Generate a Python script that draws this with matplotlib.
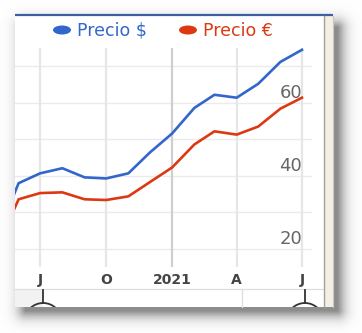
import numpy as np
import pandas as pd
import matplotlib
matplotlib.use('Agg')
import matplotlib.pyplot as plt
import matplotlib.dates as mdates
from matplotlib.patches import Rectangle, Ellipse, Circle
from matplotlib.transforms import offset_copy

# datos mensuales
meses = pd.date_range('2020-05-01', '2021-07-01', freq='MS')
precio_usd = [23.0, 38.0, 40.7, 42.1, 39.6, 39.3, 40.7, 46.4, 51.6, 58.6, 62.2, 61.4, 65.2, 71.2, 74.5]
precio_eur = [20.0, 33.6, 35.3, 35.5, 33.6, 33.4, 34.4, 38.3, 42.3, 48.6, 52.2, 51.3, 53.5, 58.4, 61.4]
tick_fechas = pd.to_datetime(['2020-07-01', '2020-10-01', '2021-01-01', '2021-04-01', '2021-07-01'])
tick_labels = ['J', 'O', '2021', 'A', 'J']
y_labels = [20, 40, 60]

W, H = 362, 333
azul = '#3366cc'
rojo = '#dc3912'

fig = plt.figure(figsize=(W / 100, H / 100), dpi=100)
fig.patch.set_facecolor('white')

# fondo: sombra de la captura y marco (coordenadas en pixeles)
bg = fig.add_axes([0, 0, 1, 1], zorder=0)
bg.set_xlim(0, W)
bg.set_ylim(H, 0)
bg.axis('off')
yy, xx = np.mgrid[0:H, 0:W] + 0.5
x0, x1, y0, y1 = 26, 337, 28, 310
dx = np.maximum(np.maximum(x0 - xx, xx - x1), 0)
dy = np.maximum(np.maximum(y0 - yy, yy - y1), 0)
d = np.hypot(dx, dy)
sombra = 1 - 0.45 * np.exp(-(d / 8.5) ** 1.4)
bg.imshow(np.dstack([sombra] * 3), extent=(0, W, H, 0), aspect='auto', interpolation='bilinear')

panel = Rectangle((15, 14), 318, 293, facecolor='white', edgecolor='none')
bg.add_patch(panel)
bg.plot([15, 333], [14.5, 14.5], color='#3d5f9f', lw=1.6, solid_capstyle='butt')
bg.add_patch(Rectangle((324, 16), 9, 291, facecolor='#f4eee3', edgecolor='none'))
bg.plot([323.5, 323.5], [16, 307], color='#a0a0a0', lw=1.0)
bg.plot([333, 333], [16, 307], color='#c8c8c8', lw=0.8)

# zona inferior (selector de rango)
bg.add_patch(Rectangle((15, 289), 28, 18, facecolor='#f2f2f2', edgecolor='none'))
bg.plot([15, 323], [289, 289], color='#dddddd', lw=0.9)
bg.plot([242, 242], [289, 307], color='#dddddd', lw=0.9)

# leyenda
bg.add_patch(Ellipse((62, 30), 18, 9, facecolor=azul, edgecolor='none'))
bg.text(77, 31, 'Precio $', color=azul, fontsize=12.5, va='center', ha='left')
bg.add_patch(Ellipse((188, 30), 18, 9, facecolor=rojo, edgecolor='none'))
bg.text(203, 31, 'Precio €', color=rojo, fontsize=12.5, va='center', ha='left')

# grafico principal
ax = fig.add_axes([15 / W, 1 - 267 / H, (312 - 15) / W, (267 - 48) / H], zorder=1)
ax.set_facecolor('none')
ax.set_xlim(pd.Timestamp('2020-05-27'), pd.Timestamp('2021-07-15'))
ax.set_ylim(15.07, 75.0)

for v in range(20, 80, 10):
    ax.axhline(v, color='#ebebeb', lw=1.0, zorder=1)
for f in tick_fechas:
    c = '#cfcfcf' if f.year == 2021 and f.month == 1 else '#e6e6e6'
    ax.axvline(f, color=c, lw=1.6, zorder=1)

ax.plot(meses, precio_usd, color=azul, lw=1.9, zorder=3)
ax.plot(meses, precio_eur, color=rojo, lw=1.9, zorder=3)

ax.set_xticks(tick_fechas)
ax.set_xticklabels(tick_labels, fontsize=10, fontweight='bold', color='#444444')
ax.tick_params(axis='x', length=0, pad=4)
ax.tick_params(axis='y', left=False, labelleft=False)
for s in ax.spines.values():
    s.set_visible(False)

tr = offset_copy(ax.transData, fig=fig, x=0, y=5, units='dots')
for v in y_labels:
    ax.text(tick_fechas[-1], v, str(v), transform=tr, ha='right', va='baseline',
            fontsize=13, color='#666666', zorder=4)

# manijas del selector en los extremos
for f in [tick_fechas[0], tick_fechas[-1]]:
    px = ax.transData.transform((mdates.date2num(f), 0))[0] + 3
    bg.plot([px, px], [290, 303], color='#333333', lw=1.3)
    c = Circle((px, 321.5), 18.5, facecolor='none', edgecolor='#333333', lw=1.3)
    bg.add_patch(c)
    c.set_clip_path(panel)

fig.savefig('out.png', dpi=100)
